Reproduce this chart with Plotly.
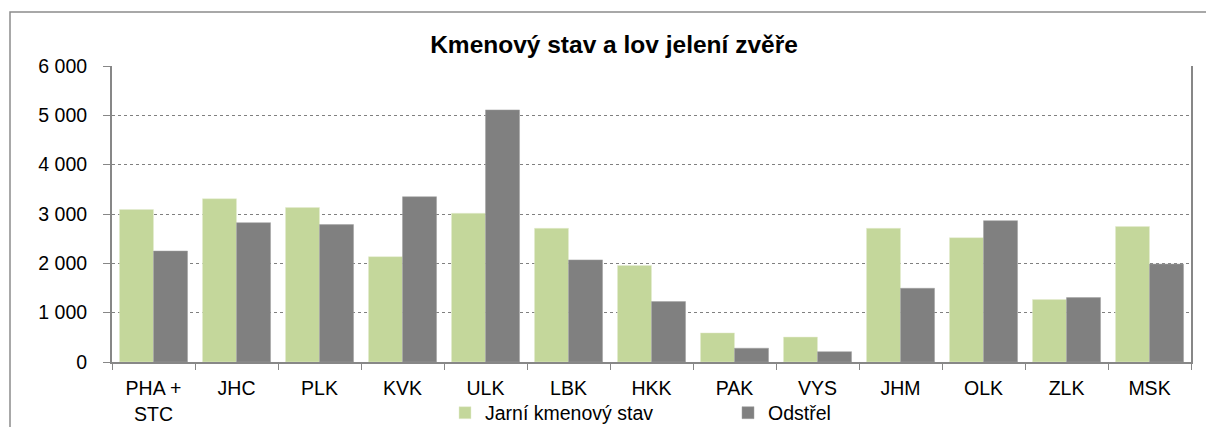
import plotly.graph_objects as go

categories = ["PHA +<br>STC", "JHC", "PLK", "KVK", "ULK", "LBK", "HKK", "PAK", "VYS", "JHM", "OLK", "ZLK", "MSK"]
jarni_kmenovy_stav = [3090, 3310, 3130, 2135, 3015, 2710, 1955, 590, 505, 2710, 2520, 1265, 2745]
odstrel = [2250, 2825, 2785, 3350, 5110, 2070, 1225, 280, 210, 1495, 2865, 1305, 1985]
y_ticks = [0, 1000, 2000, 3000, 4000, 5000, 6000]
y_tick_labels = ["0", "1 000", "2 000", "3 000", "4 000", "5 000", "6 000"]

FONT = "Liberation Sans, Arial, sans-serif"
FS = 19.5

fig = go.Figure()
fig.add_trace(go.Bar(x=categories, y=jarni_kmenovy_stav, name="Jarní kmenový stav",
                     marker=dict(color="#C4D79B", line=dict(color="#E4EDD0", width=0.5))))
fig.add_trace(go.Bar(x=categories, y=odstrel, name="Odstřel",
                     marker=dict(color="#808080", line=dict(color="#A0A0A0", width=0.5))))

W, H = 1206, 427
ml, mr, mt, mb = 112, 15, 66, 65
pw, ph = W - ml - mr, H - mt - mb

fig.update_layout(
    width=W, height=H,
    margin=dict(l=ml, r=mr, t=mt, b=mb, autoexpand=False),
    paper_bgcolor="white", plot_bgcolor="white",
    barmode="group", bargap=0.18, bargroupgap=0,
    font=dict(family=FONT, size=FS, color="black"),
    title=dict(text="<b>Kmenový stav a lov jelení zvěře</b>", x=614 / W, xanchor="center",
               y=1 - 44 / H, yanchor="middle", font=dict(size=24.5, family=FONT, color="black")),
    legend=dict(orientation="h", x=(445 - ml) / pw, xanchor="left",
                y=-(413 - 362) / ph, yanchor="middle",
                font=dict(size=FS, family=FONT), entrywidth=238, itemwidth=30,
                bgcolor="rgba(0,0,0,0)"),
    xaxis=dict(showline=True, linecolor="#878787", linewidth=2, ticks="outside", tickson="boundaries",
               ticklen=6, tickcolor="#878787", tickwidth=1, showgrid=False,
               ticklabelstandoff=8, tickfont=dict(size=FS, family=FONT)),
    yaxis=dict(range=[0, 6000], tickvals=y_ticks, ticktext=y_tick_labels, showline=True, mirror=True,
               linecolor="#878787", linewidth=2, ticks="outside", ticklen=7, tickcolor="#878787",
               showgrid=True, gridcolor="#808080", griddash="dot", gridwidth=1,
               ticklabelstandoff=12, tickfont=dict(size=FS, family=FONT), zeroline=False),
    shapes=[dict(type="rect", xref="paper", yref="paper",
                 x0=(10 - ml) / pw, x1=(W + 5 - ml) / pw,
                 y0=-(H + 5 - (H - mb)) / ph, y1=1 + (mt - 12) / ph,
                 line=dict(color="#8C8C8C", width=1.5), fillcolor="rgba(0,0,0,0)", layer="below")],
)

fig.write_html("out.html", config={"displayModeBar": False},
               post_script="document.body.style.margin='0';document.body.style.overflow='hidden';")
